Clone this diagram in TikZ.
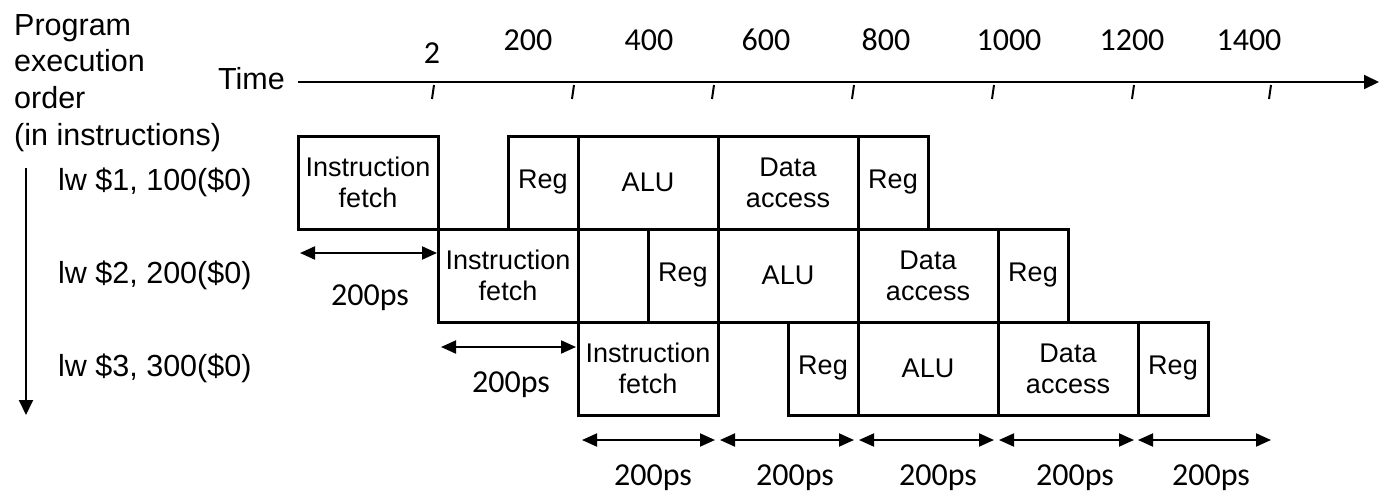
\documentclass[tikz,border=0pt]{standalone}
\usepackage{fontspec}
\setmainfont{Liberation Sans}
\newfontfamily\calibrifont{Carlito}
\usetikzlibrary{arrows.meta}
\begin{document}
\begin{tikzpicture}[x=1pt,y=-1pt,
  stage/.style={draw, line width=3pt, inner sep=0pt, align=center,
    minimum height=93pt, font=\fontsize{27}{31}\selectfont},
  wide/.style={stage, minimum width=140pt},
  narrow/.style={stage, minimum width=70pt},
  lbl/.style={inner sep=0pt, font=\fontsize{30.5}{36.8}\selectfont},
  num/.style={inner sep=0pt, anchor=base, font=\calibrifont\fontsize{32}{36}\selectfont},
  span/.style={line width=2pt, {Triangle[length=15pt,width=13pt]}-{Triangle[length=15pt,width=13pt]}},
  tick/.style={line width=2pt}
]
\useasboundingbox (0,0) rectangle (1379,493);

% left labels
\node[lbl, anchor=north west, align=left] (order) at (14,14)
  {Program\\execution\\order\\(in instructions)};
\node[lbl, anchor=east] (time) at (285,79) {Time};
\node[lbl, anchor=west] (i1) at (58,182.5) {lw \$1, 100(\$0)};
\node[lbl, anchor=west] (i2) at (58,275.5) {lw \$2, 200(\$0)};
\node[lbl, anchor=west] (i3) at (58,368.5) {lw \$3, 300(\$0)};
\coordinate (vtop) at (26,168);
\coordinate (vbot) at (26,415);
\draw[line width=2pt, -{Triangle[length=15pt,width=14pt]}] (vtop) -- (vbot);

% time axis
\coordinate (axs) at (298,82);
\coordinate (axe) at (1379,82);
\draw[line width=2pt, -{Triangle[length=15pt,width=14pt]}] (axs) -- (axe);
\foreach \x/\n in {433/t1,573/t2,713/t3,853/t4,993/t5,1133/t6,1270/t7}{
  \coordinate (\n a) at (\x+1,85);
  \coordinate (\n b) at (\x-1,99);
  \draw[tick] (\n a) -- (\n b);
}
\node[num] (l0) at (432,63) {2};
\node[num] (l1) at (528,50) {200};
\node[num] (l2) at (649,50) {400};
\node[num] (l3) at (766,50) {600};
\node[num] (l4) at (886,50) {800};
\node[num] (l5) at (1009,50) {1000};
\node[num] (l6) at (1132,50) {1200};
\node[num] (l7) at (1249,50) {1400};

% row 1
\node[wide]   (r1if)  at (368,182.5) {Instruction\\fetch};
\node[narrow] (r1rr)  at (543,182.5) {Reg};
\node[wide]   (r1alu) at (648,182.5) {ALU};
\node[wide]   (r1da)  at (788,182.5) {Data\\access};
\node[narrow] (r1rw)  at (893,182.5) {Reg};
% row 2
\node[wide]   (r2if)  at (508,275.5) {Instruction\\fetch};
\node[narrow] (r2rr)  at (683,275.5) {Reg};
\node[wide]   (r2alu) at (788,275.5) {ALU};
\node[wide]   (r2da)  at (928,275.5) {Data\\access};
\node[narrow] (r2rw)  at (1033,275.5) {Reg};
% row 3
\node[wide]   (r3if)  at (648,368.5) {Instruction\\fetch};
\node[narrow] (r3rr)  at (823,368.5) {Reg};
\node[wide]   (r3alu) at (928,368.5) {ALU};
\node[wide]   (r3da)  at (1068,368.5) {Data\\access};
\node[narrow] (r3rw)  at (1173,368.5) {Reg};

% spans
\coordinate (s1a) at (300,253);
\coordinate (s1b) at (437,253);
\draw[span] (s1a) -- (s1b);
\node[num] (p1) at (370,305) {200ps};
\coordinate (s2a) at (441,347);
\coordinate (s2b) at (576,347);
\draw[span] (s2a) -- (s2b);
\node[num] (p2) at (511,392) {200ps};

\foreach \a/\b/\c/\n in {582/715/653/1,720/854/795/2,859/994/938/3,999/1134/1075/4,1138/1271/1211/5}{
  \coordinate (b\n a) at (\a,440);
  \coordinate (b\n b) at (\b,440);
  \draw[span] (b\n a) -- (b\n b);
  \node[num] (bp\n) at (\c,485) {200ps};
}
\end{tikzpicture}
\end{document}
